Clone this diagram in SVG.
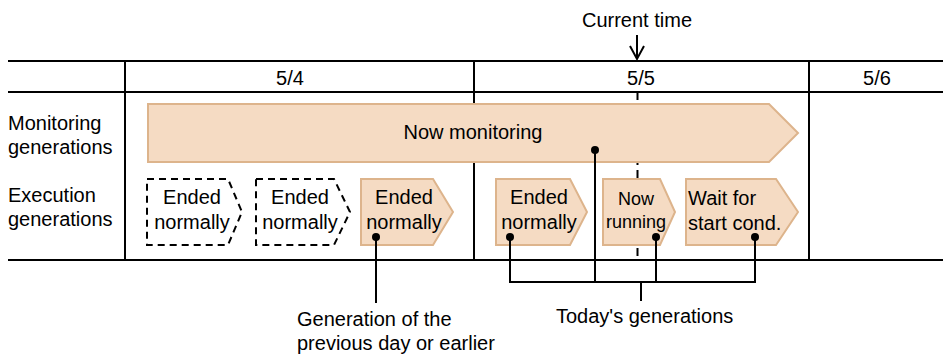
<svg xmlns="http://www.w3.org/2000/svg" width="943" height="356" viewBox="0 0 943 356">
<style>
text{font-family:"Liberation Sans",Arial,sans-serif;font-size:20px;fill:#000}
.c{text-anchor:middle}
.grid{stroke:#000;stroke-width:2;fill:none}
.fill{fill:#F5DBC3;stroke:#DDB48C;stroke-width:2}
.dash{fill:#fff;stroke:#000;stroke-width:2;stroke-dasharray:7 5}
.ln{stroke:#000;stroke-width:2;fill:none}
.dot{fill:#000}
</style>
<rect width="943" height="356" fill="#fff"/>
<g id="grid">
<line class="grid" x1="8" y1="61" x2="943" y2="61"/>
<line class="grid" x1="8" y1="92" x2="943" y2="92"/>
<line class="grid" x1="8" y1="260" x2="943" y2="260"/>
<line class="grid" x1="125" y1="61" x2="125" y2="260"/>
<line class="grid" x1="474" y1="61" x2="474" y2="260"/>
<line class="grid" x1="809" y1="61" x2="809" y2="260"/>
<line class="grid" x1="637.5" y1="92" x2="637.5" y2="260" stroke-dasharray="8 5"/>
<text class="c" x="290" y="85">5/4</text>
<text class="c" x="641" y="85">5/5</text>
<text class="c" x="877" y="85">5/6</text>
<text x="8" y="130">Monitoring</text>
<text x="8" y="154">generations</text>
<text x="8" y="202">Execution</text>
<text x="8" y="226">generations</text>
</g>
<g id="current-time">
<text class="c" x="637" y="27">Current time</text>
<line class="ln" x1="637" y1="35" x2="637" y2="59"/>
<polyline class="ln" points="630,46 637,59 644,46"/>
</g>
<g id="monitoring">
<polygon class="fill" points="148,104 769,104 798,133 769,162 148,162"/>
<text class="c" x="473" y="139">Now monitoring</text>
</g>
<g id="gen1">
<polygon class="dash" points="147,179 228,179 242,212 228,245 147,245"/>
<text class="c" x="192" y="204">Ended</text>
<text class="c" x="192" y="229">normally</text>
</g>
<g id="gen2">
<polygon class="dash" points="256,179 334,179 350,212 334,245 256,245"/>
<text class="c" x="300" y="204">Ended</text>
<text class="c" x="300" y="229">normally</text>
</g>
<g id="gen3">
<polygon class="fill" points="361,179 433,179 453,212 433,245 361,245"/>
<text class="c" x="404" y="204">Ended</text>
<text class="c" x="404" y="229">normally</text>
</g>
<g id="gen4">
<polygon class="fill" points="496,179 570,179 587,212 570,245 496,245"/>
<text class="c" x="539" y="204">Ended</text>
<text class="c" x="539" y="229">normally</text>
</g>
<g id="gen5">
<polygon class="fill" points="603,179 660,179 675,212 660,245 603,245"/>
<text class="c" x="636" y="205" style="font-size:18px">Now</text>
<text class="c" x="636" y="228" style="font-size:18px">running</text>
</g>
<g id="gen6">
<polygon class="fill" points="686,179 776,179 798,212 776,245 686,245"/>
<text x="688" y="205">Wait for</text>
<text x="688" y="230">start cond.</text>
</g>
<g id="connectors">
<line class="ln" x1="376" y1="237" x2="376" y2="303"/>
<line class="ln" x1="510" y1="237" x2="510" y2="282"/>
<line class="ln" x1="595" y1="150" x2="595" y2="282"/>
<line class="ln" x1="656" y1="237" x2="656" y2="282"/>
<line class="ln" x1="755" y1="237" x2="755" y2="282"/>
<line class="ln" x1="509" y1="282" x2="756" y2="282"/>
<line class="ln" x1="641" y1="282" x2="641" y2="301"/>
<circle class="dot" cx="376" cy="237" r="4"/>
<circle class="dot" cx="510" cy="237" r="4"/>
<circle class="dot" cx="595" cy="150" r="4"/>
<circle class="dot" cx="656" cy="237" r="4"/>
<circle class="dot" cx="755" cy="237" r="4"/>
</g>
<g id="labels">
<text x="297" y="326">Generation of the</text>
<text x="297" y="350">previous day or earlier</text>
<text x="556" y="323">Today's generations</text>
</g>
</svg>
